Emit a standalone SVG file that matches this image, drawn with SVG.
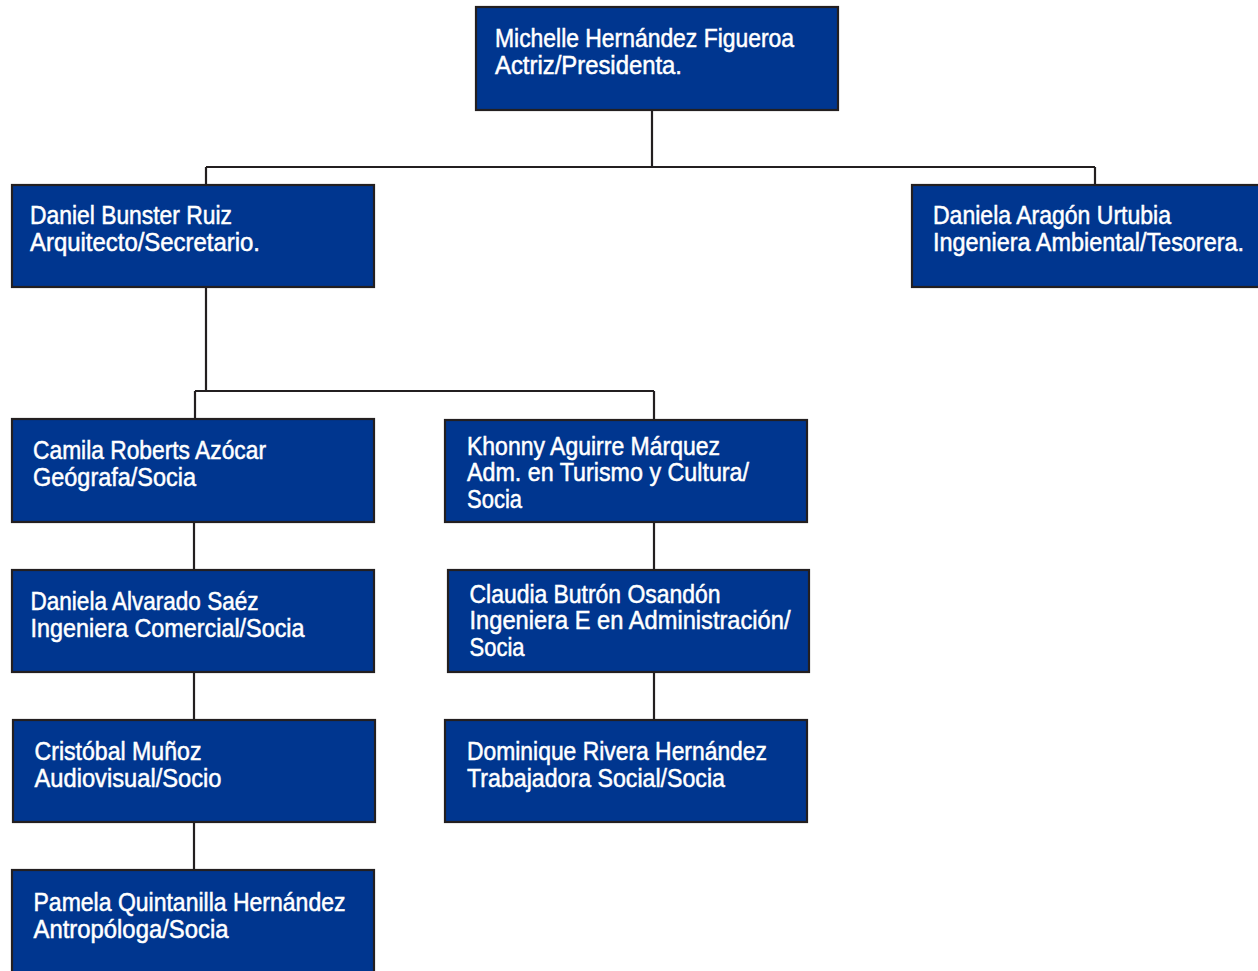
<svg xmlns="http://www.w3.org/2000/svg" width="1258" height="971" viewBox="0 0 1258 971">
<style>
.box{fill:#00368F;stroke:#231F20;stroke-width:2.2}
.lbl{fill:#FFFFFF;stroke:#FFFFFF;stroke-width:0.5;font-family:"Liberation Sans","DejaVu Sans Condensed",sans-serif;font-size:25px}
.con{stroke:#231F20;stroke-width:2.2;fill:none}
</style>
<rect width="1258" height="971" fill="#FFFFFF"/>
<g id="connectors">
<path class="con" d="M652,111 V167 M206,167 H1095 M206,167 V185 M1095,167 V185"/>
<path class="con" d="M206,288 V391 M195,391 H654 M195,391 V419 M654,391 V420"/>
<path class="con" d="M194,523 V570 M194,673 V720 M194,823 V870"/>
<path class="con" d="M654,522 V570 M654,673 V720"/>
</g>
<g id="n-michelle">
<rect class="box" x="476" y="7" width="362" height="103"/>
<text class="lbl" x="495" y="47" textLength="299" lengthAdjust="spacingAndGlyphs">Michelle Hernández Figueroa</text>
<text class="lbl" x="495" y="73.5" textLength="187" lengthAdjust="spacingAndGlyphs">Actriz/Presidenta.</text>
</g>
<g id="n-daniel">
<rect class="box" x="12" y="185" width="362" height="102"/>
<text class="lbl" x="30" y="224" textLength="202" lengthAdjust="spacingAndGlyphs">Daniel Bunster Ruiz</text>
<text class="lbl" x="30" y="251" textLength="230" lengthAdjust="spacingAndGlyphs">Arquitecto/Secretario.</text>
</g>
<g id="n-aragon">
<rect class="box" x="912" y="185" width="352" height="102"/>
<text class="lbl" x="933" y="224" textLength="238" lengthAdjust="spacingAndGlyphs">Daniela Aragón Urtubia</text>
<text class="lbl" x="933" y="251" textLength="311" lengthAdjust="spacingAndGlyphs">Ingeniera Ambiental/Tesorera.</text>
</g>
<g id="n-camila">
<rect class="box" x="12" y="419" width="362" height="103"/>
<text class="lbl" x="33" y="459" textLength="233" lengthAdjust="spacingAndGlyphs">Camila Roberts Azócar</text>
<text class="lbl" x="33" y="486" textLength="163" lengthAdjust="spacingAndGlyphs">Geógrafa/Socia</text>
</g>
<g id="n-khonny">
<rect class="box" x="445" y="420" width="362" height="102"/>
<text class="lbl" x="467" y="454.5" textLength="253" lengthAdjust="spacingAndGlyphs">Khonny Aguirre Márquez</text>
<text class="lbl" x="467" y="481" textLength="282" lengthAdjust="spacingAndGlyphs">Adm. en Turismo y Cultura/</text>
<text class="lbl" x="467" y="507.5" textLength="55" lengthAdjust="spacingAndGlyphs">Socia</text>
</g>
<g id="n-alvarado">
<rect class="box" x="12" y="570" width="362" height="102"/>
<text class="lbl" x="30.5" y="610" textLength="228" lengthAdjust="spacingAndGlyphs">Daniela Alvarado Saéz</text>
<text class="lbl" x="30.5" y="637" textLength="274" lengthAdjust="spacingAndGlyphs">Ingeniera Comercial/Socia</text>
</g>
<g id="n-claudia">
<rect class="box" x="448" y="570" width="361" height="102"/>
<text class="lbl" x="469.5" y="602.5" textLength="251" lengthAdjust="spacingAndGlyphs">Claudia Butrón Osandón</text>
<text class="lbl" x="469.5" y="629" textLength="321" lengthAdjust="spacingAndGlyphs">Ingeniera E en Administración/</text>
<text class="lbl" x="469.5" y="655.5" textLength="55" lengthAdjust="spacingAndGlyphs">Socia</text>
</g>
<g id="n-cristobal">
<rect class="box" x="13" y="720" width="362" height="102"/>
<text class="lbl" x="34.5" y="760" textLength="167" lengthAdjust="spacingAndGlyphs">Cristóbal Muñoz</text>
<text class="lbl" x="34.5" y="787" textLength="187" lengthAdjust="spacingAndGlyphs">Audiovisual/Socio</text>
</g>
<g id="n-dominique">
<rect class="box" x="445" y="720" width="362" height="102"/>
<text class="lbl" x="467" y="759.5" textLength="300" lengthAdjust="spacingAndGlyphs">Dominique Rivera Hernández</text>
<text class="lbl" x="467" y="786.5" textLength="258" lengthAdjust="spacingAndGlyphs">Trabajadora Social/Socia</text>
</g>
<g id="n-pamela">
<rect class="box" x="12" y="870" width="362" height="112"/>
<text class="lbl" x="33.5" y="910.5" textLength="312" lengthAdjust="spacingAndGlyphs">Pamela Quintanilla Hernández</text>
<text class="lbl" x="33.5" y="937.5" textLength="195" lengthAdjust="spacingAndGlyphs">Antropóloga/Socia</text>
</g>
</svg>
